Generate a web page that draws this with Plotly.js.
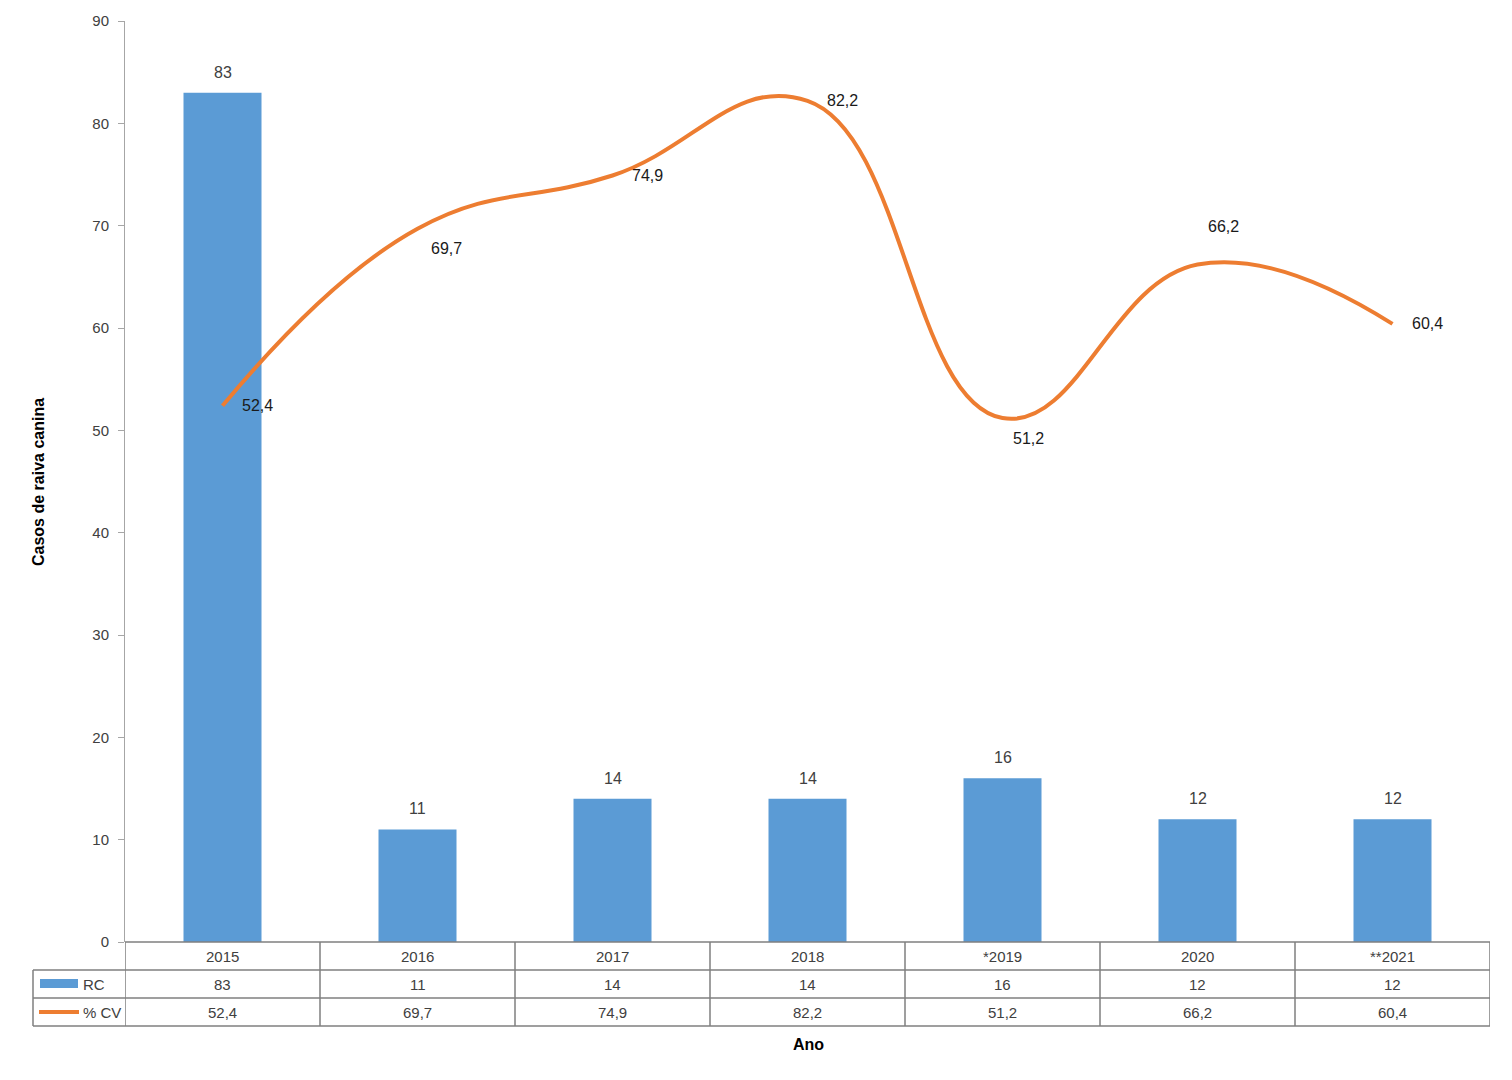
<!DOCTYPE html>
<html>
<head>
<meta charset="utf-8">
<script src="https://cdn.plot.ly/plotly-3.0.1.min.js"></script>
<style>html,body{margin:0;padding:0;background:#fff;}#chart{width:1512px;height:1080px;}</style>
</head>
<body>
<div id="chart"></div>
<script>
const categories = ["2015", "2016", "2017", "2018", "*2019", "2020", "**2021"];
const rcValues = [83, 11, 14, 14, 16, 12, 12];
const cvValues = [52.4, 69.7, 74.9, 82.2, 51.2, 66.2, 60.4];
const seriesNames = ["RC", "% CV"];
const yTicks = [0, 10, 20, 30, 40, 50, 60, 70, 80, 90];

const W = 1512, H = 1080;
const M = {l: 125, r: 22, t: 21, b: 138};
const plotH = H - M.t - M.b;
const plotW = W - M.l - M.r;
const py = p => (H - M.b - p) / plotH;   // pixel y -> paper y
const px = p => (p - M.l) / plotW;       // pixel x -> paper x

const fmt = v => String(v).replace('.', ',');
const FONT = "Liberation Sans, Arial, sans-serif";
const BLUE = "#5B9BD5", ORANGE = "#ED7D31", GRID = "#7f7f7f", TXT = "#404040";

// label offsets (pixels) for the % CV data labels
const cvShiftX = [35, 29, 35, 35, 26, 26, 35];
const cvShiftY = [0, -20, 0, 0, -20, 38, 0];

const traces = [
  {
    type: 'bar', x: categories, y: rcValues, name: seriesNames[0],
    marker: {color: BLUE}, width: 0.4, hoverinfo: 'x+y'
  },
  {
    type: 'scatter', mode: 'lines', x: categories, y: cvValues, name: seriesNames[1],
    line: {color: ORANGE, width: 4, shape: 'spline', smoothing: 1.25}
  }
];

const shapes = [];
const annotations = [];
const n = categories.length;

// data labels
rcValues.forEach((v, i) => {
  annotations.push({xref: 'x', yref: 'y', x: i, y: v, text: fmt(v), showarrow: false,
    xanchor: 'center', yanchor: 'bottom', yshift: 10, font: {family: FONT, size: 16, color: TXT}});
});
cvValues.forEach((v, i) => {
  annotations.push({xref: 'x', yref: 'y', x: i, y: v, text: fmt(v), showarrow: false,
    xanchor: 'center', yanchor: 'middle', xshift: cvShiftX[i], yshift: cvShiftY[i],
    font: {family: FONT, size: 16, color: '#1a1a1a'}});
});

const rowTop = [942, 970, 998, 1026];
const lineStyle = {color: GRID, width: 1.5};
// horizontal lines of the data table
shapes.push({type: 'line', xref: 'paper', yref: 'paper', x0: 0, x1: 1, y0: py(rowTop[0]), y1: py(rowTop[0]), line: lineStyle});
for (let r = 1; r < 4; r++) {
  shapes.push({type: 'line', xref: 'paper', yref: 'paper', x0: px(33), x1: 1, y0: py(rowTop[r]), y1: py(rowTop[r]), line: lineStyle});
}
// vertical lines
for (let k = 0; k <= n; k++) {
  shapes.push({type: 'line', xref: 'x', yref: 'paper', x0: k - 0.5, x1: k - 0.5, y0: py(rowTop[0]), y1: py(rowTop[3]), line: lineStyle});
}
shapes.push({type: 'line', xref: 'paper', yref: 'paper', x0: px(33), x1: px(33), y0: py(rowTop[1]), y1: py(rowTop[3]), line: lineStyle});
// legend keys
shapes.push({type: 'rect', xref: 'paper', yref: 'paper', x0: px(40), x1: px(78), y0: py(988), y1: py(979), fillcolor: BLUE, line: {width: 0}});
shapes.push({type: 'line', xref: 'paper', yref: 'paper', x0: px(39), x1: px(79), y0: py(1012), y1: py(1012), line: {color: ORANGE, width: 4}});

const rows = [categories, rcValues.map(fmt), cvValues.map(fmt)];
for (let r = 0; r < 3; r++) {
  const yc = py((rowTop[r] + rowTop[r + 1]) / 2);
  rows[r].forEach((t, i) => {
    annotations.push({xref: 'x', yref: 'paper', x: i, y: yc, text: t, showarrow: false,
      xanchor: 'center', yanchor: 'middle', font: {family: FONT, size: 15, color: TXT}});
  });
}
annotations.push({xref: 'paper', yref: 'paper', x: px(81), y: py(984), text: seriesNames[0], showarrow: false,
  xanchor: 'left', yanchor: 'middle', font: {family: FONT, size: 15, color: TXT}});
annotations.push({xref: 'paper', yref: 'paper', x: px(81), y: py(1012), text: seriesNames[1], showarrow: false,
  xanchor: 'left', yanchor: 'middle', font: {family: FONT, size: 15, color: TXT}});
// axis titles
annotations.push({xref: 'paper', yref: 'paper', x: px(808), y: py(1044), text: '<b>Ano</b>', showarrow: false,
  xanchor: 'center', yanchor: 'middle', font: {family: FONT, size: 16, color: '#000'}});
annotations.push({xref: 'paper', yref: 'paper', x: px(38), y: py(482), text: '<b>Casos de raiva canina</b>', showarrow: false,
  textangle: -90, xanchor: 'center', yanchor: 'middle', font: {family: FONT, size: 16, color: '#000'}});

const layout = {
  width: W, height: H,
  margin: M,
  paper_bgcolor: '#fff', plot_bgcolor: '#fff',
  showlegend: false,
  xaxis: {
    type: 'category', range: [-0.5, n - 0.5], showticklabels: false, ticks: '',
    showgrid: false, zeroline: false, showline: false, fixedrange: true
  },
  yaxis: {
    range: [0, 90], tickvals: yTicks, ticktext: yTicks.map(String),
    showgrid: false, zeroline: false, showline: true, linecolor: '#a6a6a6', linewidth: 1,
    ticks: 'outside', ticklen: 6, tickcolor: '#a6a6a6', ticklabelstandoff: 6,
    tickfont: {family: FONT, size: 15, color: TXT}, fixedrange: true
  },
  shapes: shapes,
  annotations: annotations,
  font: {family: FONT}
};

Plotly.newPlot('chart', traces, layout, {displayModeBar: false, staticPlot: true});
</script>
</body>
</html>
